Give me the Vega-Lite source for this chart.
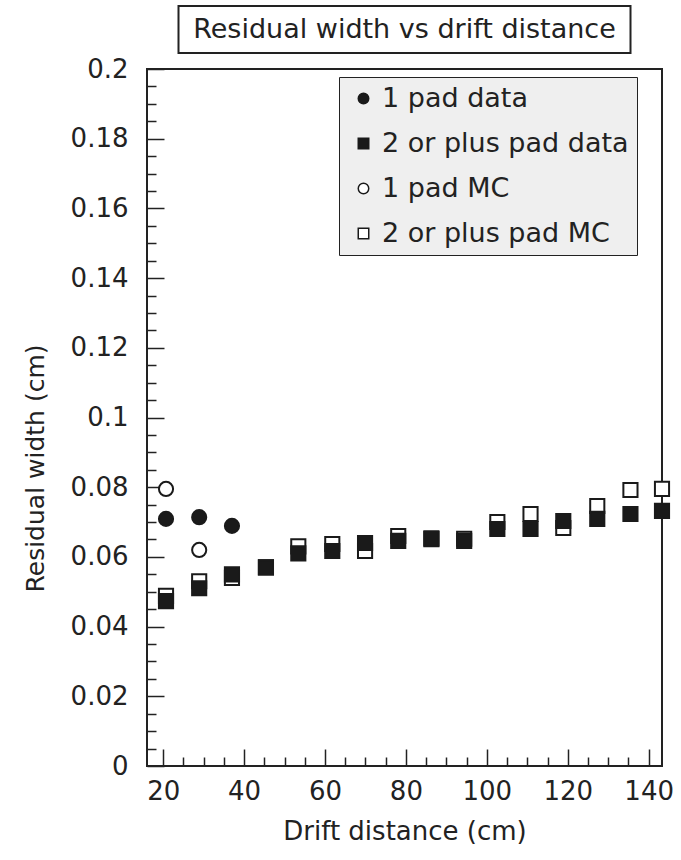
{
  "$schema": "https://vega.github.io/schema/vega-lite/v6.json",
  "padding": {"top": 5, "left": 22, "right": 10, "bottom": 10},
  "background": "white",
  "config": {
    "font": "DejaVu Sans",
    "axis": {"labelColor": "#222", "titleColor": "#222", "tickColor": "#222", "grid": false, "domain": false, "labelFont": "DejaVu Sans", "titleFont": "DejaVu Sans", "titleFontWeight": "normal"},
    "legend": {"labelFont": "DejaVu Sans"}
  },
  "vconcat": [
    {
      "width": 452,
      "height": 47,
      "data": {"values": [{"label": "Residual width vs drift distance"}]},
      "mark": {"type": "text", "fontSize": 27, "color": "#222", "font": "DejaVu Sans"},
      "encoding": {"text": {"field": "label"}},
      "view": {"stroke": "#222", "strokeWidth": 2}
    },
    {
      "width": 515,
      "height": 697,
      "view": {"stroke": "#222", "strokeWidth": 2},
      "data": {"values": [
        {"x": 20.7, "y": 0.0795, "series": "1 pad MC"},
        {"x": 28.9, "y": 0.0620, "series": "1 pad MC"},
        {"x": 20.7, "y": 0.0488, "series": "2 or plus pad MC"},
        {"x": 28.9, "y": 0.0530, "series": "2 or plus pad MC"},
        {"x": 37.0, "y": 0.0540, "series": "2 or plus pad MC"},
        {"x": 45.4, "y": 0.0570, "series": "2 or plus pad MC"},
        {"x": 53.4, "y": 0.0630, "series": "2 or plus pad MC"},
        {"x": 61.8, "y": 0.0637, "series": "2 or plus pad MC"},
        {"x": 69.9, "y": 0.0617, "series": "2 or plus pad MC"},
        {"x": 78.1, "y": 0.0660, "series": "2 or plus pad MC"},
        {"x": 86.3, "y": 0.0653, "series": "2 or plus pad MC"},
        {"x": 94.4, "y": 0.0652, "series": "2 or plus pad MC"},
        {"x": 102.6, "y": 0.0700, "series": "2 or plus pad MC"},
        {"x": 110.8, "y": 0.0723, "series": "2 or plus pad MC"},
        {"x": 118.9, "y": 0.0683, "series": "2 or plus pad MC"},
        {"x": 127.3, "y": 0.0746, "series": "2 or plus pad MC"},
        {"x": 135.5, "y": 0.0792, "series": "2 or plus pad MC"},
        {"x": 143.3, "y": 0.0795, "series": "2 or plus pad MC"},
        {"x": 20.7, "y": 0.0709, "series": "1 pad data"},
        {"x": 28.9, "y": 0.0714, "series": "1 pad data"},
        {"x": 37.0, "y": 0.0689, "series": "1 pad data"},
        {"x": 20.7, "y": 0.0473, "series": "2 or plus pad data"},
        {"x": 28.9, "y": 0.0510, "series": "2 or plus pad data"},
        {"x": 37.0, "y": 0.0550, "series": "2 or plus pad data"},
        {"x": 45.4, "y": 0.0570, "series": "2 or plus pad data"},
        {"x": 53.4, "y": 0.0610, "series": "2 or plus pad data"},
        {"x": 61.8, "y": 0.0617, "series": "2 or plus pad data"},
        {"x": 69.9, "y": 0.0640, "series": "2 or plus pad data"},
        {"x": 78.1, "y": 0.0646, "series": "2 or plus pad data"},
        {"x": 86.3, "y": 0.0651, "series": "2 or plus pad data"},
        {"x": 94.4, "y": 0.0646, "series": "2 or plus pad data"},
        {"x": 102.6, "y": 0.0680, "series": "2 or plus pad data"},
        {"x": 110.8, "y": 0.0680, "series": "2 or plus pad data"},
        {"x": 118.9, "y": 0.0703, "series": "2 or plus pad data"},
        {"x": 127.3, "y": 0.0709, "series": "2 or plus pad data"},
        {"x": 135.5, "y": 0.0723, "series": "2 or plus pad data"},
        {"x": 143.3, "y": 0.0732, "series": "2 or plus pad data"}
      ]},
      "layer": [
        {
          "mark": {"type": "point", "opacity": 0},
          "encoding": {
            "x": {"field": "x", "type": "quantitative", "scale": {"domain": [16, 143.3], "nice": false, "zero": false},
                  "axis": {"orient": "bottom", "values": [25,30,35,45,50,55,65,70,75,85,90,95,105,110,115,125,130,135], "tickSize": -9, "tickWidth": 1.5, "labels": false, "title": null, "domain": false}},
            "y": {"field": "y", "type": "quantitative", "scale": {"domain": [0, 0.2], "nice": false},
                  "axis": {"orient": "left", "values": [0.005,0.01,0.015,0.025,0.03,0.035,0.045,0.05,0.055,0.065,0.07,0.075,0.085,0.09,0.095,0.105,0.11,0.115,0.125,0.13,0.135,0.145,0.15,0.155,0.165,0.17,0.175,0.185,0.19,0.195], "tickSize": -9, "tickWidth": 1.5, "labels": false, "title": null, "domain": false}}
          }
        },
        {
          "mark": {"type": "point", "filled": false, "size": 200, "strokeWidth": 2, "opacity": 1},
          "encoding": {
            "x": {"field": "x", "type": "quantitative", "scale": {"domain": [16, 143.3], "nice": false, "zero": false},
                  "axis": {"orient": "bottom", "values": [20,40,60,80,100,120,140], "tickSize": -17, "tickWidth": 1.5, "labelFontSize": 26, "labelPadding": 29, "title": "Drift distance (cm)", "titleFontSize": 26, "titlePadding": 14}},
            "y": {"field": "y", "type": "quantitative", "scale": {"domain": [0, 0.2], "nice": false},
                  "axis": {"orient": "left", "values": [0,0.02,0.04,0.06,0.08,0.1,0.12,0.14,0.16,0.18,0.2], "format": "~g", "tickSize": -17, "tickWidth": 1.5, "labelFontSize": 26, "labelPadding": 36, "title": "Residual width (cm)", "titleFontSize": 25, "titlePadding": 22, "titleY": 399}},
            "shape": {"field": "series", "type": "nominal",
                      "scale": {"domain": ["1 pad data", "2 or plus pad data", "1 pad MC", "2 or plus pad MC"], "range": ["circle", "square", "circle", "square"]},
                      "legend": {"title": null, "orient": "none", "legendX": 192, "legendY": 71, "fillColor": "#efefef", "strokeColor": "#222", "padding": 8, "labelFontSize": 27, "labelColor": "#222", "labelLimit": 500, "symbolSize": 110, "labelOffset": 5, "rowPadding": 17, "symbolOffset": 3, "symbolStrokeWidth": 1.5}},
            "fill": {"field": "series", "type": "nominal",
                     "scale": {"domain": ["1 pad data", "2 or plus pad data", "1 pad MC", "2 or plus pad MC"], "range": ["#1a1a1a", "#1a1a1a", "white", "white"]},
                     "legend": {"title": null, "orient": "none", "legendX": 192, "legendY": 71, "fillColor": "#efefef", "strokeColor": "#222", "padding": 8, "labelFontSize": 27, "labelColor": "#222", "labelLimit": 500, "symbolSize": 110, "labelOffset": 5, "rowPadding": 17, "symbolOffset": 3, "symbolStrokeWidth": 1.5}},
            "stroke": {"field": "series", "type": "nominal",
                     "scale": {"domain": ["1 pad data", "2 or plus pad data", "1 pad MC", "2 or plus pad MC"], "range": ["#1a1a1a", "#1a1a1a", "#1a1a1a", "#1a1a1a"]},
                     "legend": {"title": null, "orient": "none", "legendX": 192, "legendY": 71, "fillColor": "#efefef", "strokeColor": "#222", "padding": 8, "labelFontSize": 27, "labelColor": "#222", "labelLimit": 500, "symbolSize": 110, "labelOffset": 5, "rowPadding": 17, "symbolOffset": 3, "symbolStrokeWidth": 1.5}}
          }
        }
      ],
      "resolve": {"axis": {"x": "independent", "y": "independent"}}
    }
  ],
  "spacing": 16,
  "center": true,
  "bounds": "flush"
}
